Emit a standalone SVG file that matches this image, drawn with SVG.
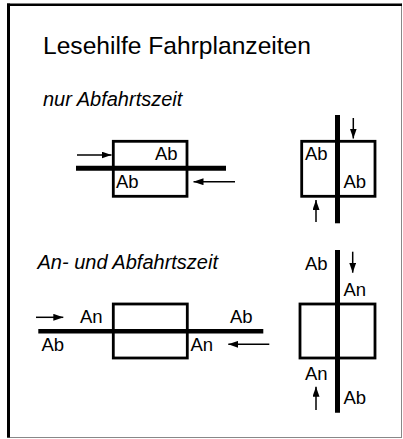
<svg xmlns="http://www.w3.org/2000/svg" width="403" height="439" viewBox="0 0 403 439">
<defs>
<style>
.t{font-family:"Liberation Sans",Arial,sans-serif;fill:#000}
.title{font-size:24.6px}
.sub{font-size:20px;font-style:italic}
.lbl{font-size:18.5px}
.box{fill:none;stroke:#000;stroke-width:2.8}
.rail{stroke:#000;stroke-width:5;fill:none}
.arr{stroke:#000;stroke-width:1.5;fill:none;marker-end:url(#ah)}
</style>
<marker id="ah" markerUnits="userSpaceOnUse" markerWidth="10" markerHeight="7" refX="10" refY="3.5" orient="auto">
<path d="M0,0 L10,3.5 L0,7 z" fill="#000"/>
</marker>
</defs>
<rect x="0" y="0" width="403" height="439" fill="#fff"/>
<g id="frame">
<line x1="401.5" y1="3.5" x2="401.5" y2="438" stroke="#888" stroke-width="1"/>
<line x1="7" y1="437.5" x2="402" y2="437.5" stroke="#888" stroke-width="1"/>
<rect x="7" y="3.5" width="395" height="2.5" fill="#000"/>
<rect x="7" y="3.5" width="3" height="434" fill="#000"/>
</g>
<g id="titles">
<text class="t title" x="43" y="53.5">Lesehilfe Fahrplanzeiten</text>
<text class="t sub" x="43" y="106">nur Abfahrtszeit</text>
<text class="t sub" x="37.5" y="269">An- und Abfahrtszeit</text>
</g>
<g id="connectors">
<line class="rail" x1="76" y1="168.2" x2="226" y2="168.2"/>
<line class="rail" x1="337.5" y1="115" x2="337.5" y2="223.3"/>
<line class="rail" x1="38.3" y1="331.2" x2="263.3" y2="331.2" style="stroke-width:4.5"/>
<line class="rail" x1="337.5" y1="250" x2="337.5" y2="412.7"/>
<line class="arr" x1="77" y1="155" x2="111.5" y2="155"/>
<line class="arr" x1="235" y1="181.7" x2="193.5" y2="181.7"/>
<line class="arr" x1="353.3" y1="118" x2="353.3" y2="138.5"/>
<line class="arr" x1="316" y1="222" x2="316" y2="200"/>
<line class="arr" x1="36" y1="317.3" x2="63.3" y2="317.3"/>
<line class="arr" x1="269.3" y1="344.3" x2="228.3" y2="344.3"/>
<line class="arr" x1="352.7" y1="251.7" x2="352.7" y2="272.7"/>
<line class="arr" x1="316" y1="410" x2="316" y2="386.7"/>
</g>
<g id="node-h1">
<rect class="box" x="113.3" y="141.3" width="73.7" height="55"/>
<text class="t lbl" x="155" y="159.5">Ab</text>
<text class="t lbl" x="116" y="187.5">Ab</text>
</g>
<g id="node-v1">
<rect class="box" x="301.7" y="141.3" width="73.3" height="55"/>
<text class="t lbl" x="305" y="159.5">Ab</text>
<text class="t lbl" x="343.5" y="187.5">Ab</text>
</g>
<g id="node-h2">
<rect class="box" x="113.3" y="304" width="74" height="54"/>
<text class="t lbl" x="80" y="322.5">An</text>
<text class="t lbl" x="230" y="322.5">Ab</text>
<text class="t lbl" x="41.5" y="350.5">Ab</text>
<text class="t lbl" x="190.5" y="350.5">An</text>
</g>
<g id="node-v2">
<rect class="box" x="300" y="304" width="75" height="54"/>
<text class="t lbl" x="305" y="269.5">Ab</text>
<text class="t lbl" x="343.5" y="296">An</text>
<text class="t lbl" x="305" y="379.5">An</text>
<text class="t lbl" x="343.5" y="403.5">Ab</text>
</g>
</svg>
